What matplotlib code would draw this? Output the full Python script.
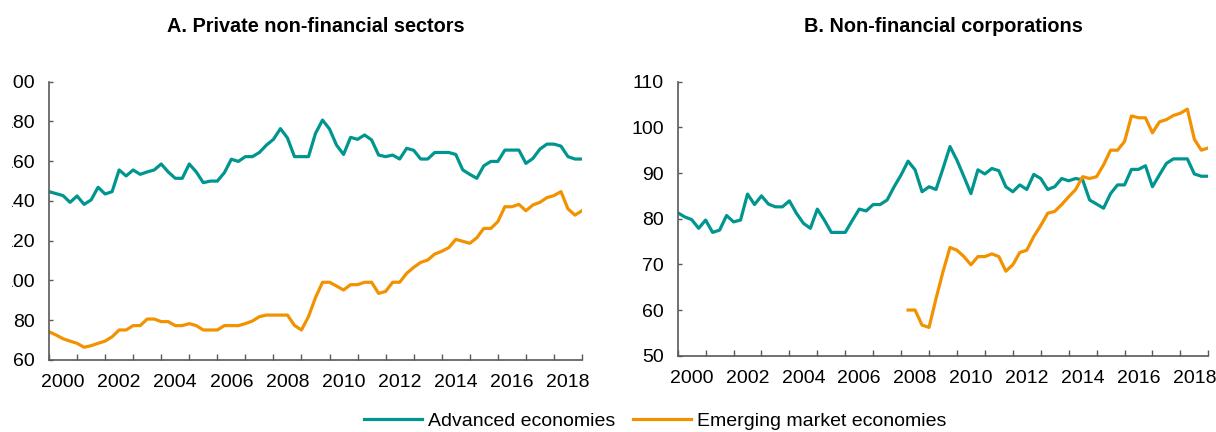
import matplotlib
matplotlib.use('Agg')
import matplotlib.pyplot as plt
import numpy as np

plt.rcParams['font.family'] = ['Liberation Sans', 'DejaVu Sans']

### Data (quarterly, 2000Q1 - 2019Q1)
# Panel A: private non-financial sectors
adv_private = [144.7, 143.7, 142.7, 139.3, 142.5, 138.3, 140.5, 146.9, 143.5, 144.7,
               155.6, 152.6, 155.6, 153.4, 154.6, 155.6, 158.6, 154.6, 151.4, 151.4,
               158.6, 154.6, 149.2, 150.0, 150.0, 154.2, 161.0, 159.9, 162.3, 162.3,
               164.4, 168.1, 171.0, 176.4, 171.7, 162.3, 162.3, 162.3, 174.0, 180.7,
               176.2, 168.1, 163.4, 172.0, 171.0, 173.2, 170.7, 163.1, 162.3, 163.1,
               161.1, 166.5, 165.5, 161.1, 161.1, 164.4, 164.4, 164.4, 163.4, 155.6,
               153.4, 151.4, 157.7, 159.9, 159.9, 165.6, 165.6, 165.6, 158.9, 161.4,
               166.1, 168.6, 168.6, 167.6, 162.3, 161.1, 161.1]
eme_private = [74.2, 72.6, 70.7, 69.5, 68.4, 66.4, 67.2, 68.4, 69.5, 71.7,
               75.1, 75.1, 77.3, 77.3, 80.6, 80.6, 79.3, 79.3, 77.3, 77.3,
               78.3, 77.3, 75.1, 75.1, 75.1, 77.3, 77.3, 77.3, 78.3, 79.6,
               81.8, 82.6, 82.6, 82.6, 82.6, 77.4, 75.1, 81.8, 91.4, 99.1,
               99.1, 97.2, 95.2, 97.9, 97.9, 99.1, 99.1, 93.5, 94.5, 99.1,
               99.1, 103.6, 106.6, 109.1, 110.3, 113.3, 114.7, 116.5, 120.7, 119.7,
               118.7, 121.5, 126.2, 126.2, 129.6, 137.1, 137.1, 138.3, 135.1, 138.0,
               139.3, 141.7, 142.7, 144.7, 136.0, 132.9, 135.1]

# Panel B: non-financial corporations
adv_corp = [81.3, 80.4, 79.8, 77.9, 79.7, 77.0, 77.5, 80.7, 79.3, 79.7,
            85.4, 83.1, 85.0, 83.2, 82.6, 82.6, 83.9, 81.2, 79.0, 77.9,
            82.1, 79.7, 77.0, 77.0, 77.0, 79.6, 82.1, 81.7, 83.1, 83.1,
            84.1, 87.0, 89.6, 92.6, 90.7, 85.9, 87.0, 86.4, 91.0, 95.8,
            92.8, 89.2, 85.5, 90.7, 89.8, 91.0, 90.5, 87.0, 85.9, 87.4,
            86.4, 89.7, 88.8, 86.4, 87.0, 88.8, 88.3, 88.8, 88.5, 84.1,
            83.2, 82.3, 85.5, 87.4, 87.4, 90.8, 90.8, 91.6, 87.0, 89.6,
            92.1, 93.1, 93.1, 93.1, 89.8, 89.3, 89.3]
eme_corp = [np.nan] * 33 + [
            60.0, 60.0, 56.7, 56.2, 62.5, 68.4, 73.7,
            73.1, 71.7, 69.9, 71.7, 71.7, 72.3, 71.7, 68.5, 69.9, 72.6,
            73.1, 76.1, 78.5, 81.2, 81.6, 83.1, 84.8, 86.4, 89.2, 88.8,
            89.2, 91.8, 95.0, 95.0, 96.9, 102.5, 102.1, 102.1, 98.8, 101.2,
            101.7, 102.6, 103.1, 104.0, 97.4, 95.0, 95.5]

quarters = 2000 + 0.25 * np.arange(len(adv_private))
year_ticks = np.arange(2000, 2020)
year_labels = [str(y) for y in range(2000, 2019, 2)]

teal = '#00968F'
orange = '#F39200'
axis_grey = '#595959'

fig = plt.figure(figsize=(12.16, 4.32), dpi=100)
ax1 = fig.add_axes([49/1216, 72/432, 533/1216, 278.3/432])
ax2 = fig.add_axes([677.7/1216, 76.3/432, 530.6/1216, 274/432])


def style_axis(ax, title):
    ax.set_xlim(2000, 2019)
    ax.set_xticks(year_ticks)
    ax.set_xticklabels([])
    ax.set_xticks(np.arange(2000.5, 2019, 2), minor=True)
    ax.set_xticklabels(year_labels, minor=True)
    ax.tick_params(axis='x', which='major', direction='in', length=4.5, width=1, color=axis_grey)
    ax.tick_params(axis='x', which='minor', length=0, pad=10, labelsize=14)
    ax.tick_params(axis='y', direction='in', length=3, width=1, color=axis_grey, pad=10, labelsize=14)
    for side in ['top', 'right']:
        ax.spines[side].set_visible(False)
    for side in ['left', 'bottom']:
        ax.spines[side].set_color(axis_grey)
        ax.spines[side].set_linewidth(1.2)
    ax.set_title(title, fontsize=14.3, fontweight='bold', pad=36)


### Panel A
ax1.plot(quarters, adv_private, color=teal, lw=2.3, label='Advanced economies')
ax1.plot(quarters, eme_private, color=orange, lw=2.3, label='Emerging market economies')
ax1.set_ylim(60, 200)
ax1.set_yticks(np.arange(60, 201, 20))
style_axis(ax1, 'A. Private non-financial sectors')

### Panel B
ax2.plot(quarters, adv_corp, color=teal, lw=2.3)
ax2.plot(quarters, eme_corp, color=orange, lw=2.3)
ax2.set_ylim(50, 110)
ax2.set_yticks(np.arange(50, 111, 10))
style_axis(ax2, 'B. Non-financial corporations')

# the original picture is cropped on the left, hiding the first digit of the labels
fig.patches.append(plt.Rectangle((0, 0), 10.5/1216, 1, transform=fig.transFigure,
                                 color='white', zorder=10))

fig.legend(loc='center', bbox_to_anchor=(655/1216, 11/432), ncol=2, frameon=False,
           fontsize=14, handlelength=3.0, handletextpad=0.3, columnspacing=0.9)

plt.savefig('out.png', dpi=100)
